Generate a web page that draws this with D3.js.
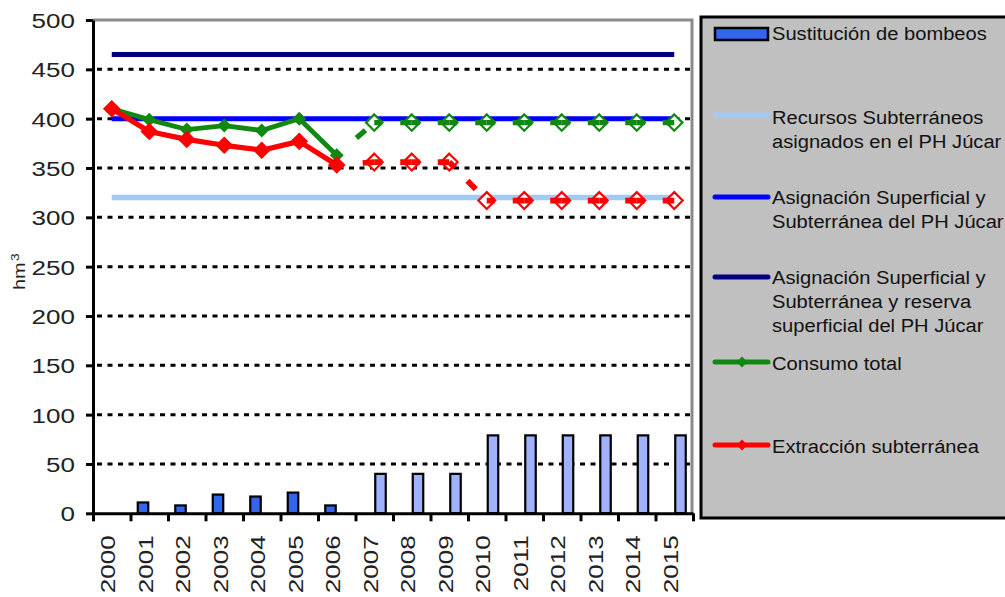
<!DOCTYPE html>
<html><head><meta charset="utf-8">
<script src="https://cdn.jsdelivr.net/npm/d3@7"></script>
<style>
body{margin:0;background:#fff}
svg{display:block}
text{font-family:"Liberation Sans",Arial,Helvetica,sans-serif}
</style>
</head><body>
<svg id="c" width="1005" height="597"></svg>
<script>
// ---------- DATA ----------
const years = ["2000","2001","2002","2003","2004","2005","2006","2007","2008","2009","2010","2011","2012","2013","2014","2015"];
const yTicks = [0,50,100,150,200,250,300,350,400,450,500];
// Sustitución de bombeos (historic / planned)
const sustitucionReal = [0,12,9,20,18,22,9,null,null,null,null,null,null,null,null,null];
const sustitucionPrev = [null,null,null,null,null,null,null,41,41,41,80,80,80,80,80,80];
// reference lines
const recursosSubterraneos = [320,320,320,320,320,320,320,320,320,320,320,320,320,320,320,320];
const asignacionSupSub = [400,400,400,400,400,400,400,400,400,400,400,400,400,400,400,400];
const asignacionReserva = [465,465,465,465,465,465,465,465,465,465,465,465,465,465,465,465];
// measured (2000-2006) + forecast (2006-2015)
const consumoTotal = [410,399,389,393,388,400,363,396,396,396,396,396,396,396,396,396];
const extraccionSubterranea = [410,387,379,373,368,377,353,356,356,356,317,317,317,317,317,317];
const lastMeasured = 6;
const legendLabels = [
  ["Sustitución de bombeos"],
  ["Recursos Subterráneos","asignados en el PH Júcar"],
  ["Asignación Superficial y","Subterránea del PH Júcar"],
  ["Asignación Superficial y","Subterránea y reserva","superficial del PH Júcar"],
  ["Consumo total"],
  ["Extracción subterránea"]
];

// ---------- STYLE ----------
const C = {
  barReal:"#3366ee", barPrev:"#a0b2fb",
  light:"#9fcbf5", blue:"#0000ff", navy:"#000080",
  green:"#118811", red:"#ff0000"
};

const svg = d3.select("#c");
const L = 93, R = 693, T = 20, B = 513.3;
const x = d3.scaleBand().domain(years).range([L,R]);
const y = d3.scaleLinear().domain([0,500]).range([B,T]);
const xs = d => x(d) + x.bandwidth()/2;
const inner = d3.scaleBand().domain(["real","prev"]).range([0,x.bandwidth()]).paddingInner(0).paddingOuter(0.5);

// gridlines
svg.append("g").selectAll("line").data(yTicks.filter(v=>v>0 && v<500)).join("line")
  .attr("x1",L+4).attr("x2",R-2).attr("y1",d=>y(d)).attr("y2",d=>y(d))
  .attr("stroke","#000").attr("stroke-width",3).attr("stroke-dasharray","5 5.5");

// plot frame (top/right gray)
svg.append("path").attr("d",`M${L},${T}H${R-1}V${B}`).attr("fill","none")
  .attr("stroke","#8a8a8a").attr("stroke-width",3);

// bars
function bars(data, key, color){
  svg.append("g").selectAll("rect").data(years.map((yr,i)=>({yr,v:data[i]})).filter(d=>d.v!=null && d.v>0)).join("rect")
    .attr("x",d=>x(d.yr)+inner(key)+1).attr("width",inner.bandwidth()-2)
    .attr("y",d=>y(d.v)+1).attr("height",d=>B-y(d.v)-1)
    .attr("fill",color).attr("stroke","#000").attr("stroke-width",2.2);
}
bars(sustitucionReal,"real",C.barReal);
bars(sustitucionPrev,"prev",C.barPrev);

// horizontal reference lines
const line = d3.line().x((d,i)=>xs(years[i])).y(d=>y(d));
[[recursosSubterraneos,C.light,5.5],[asignacionSupSub,C.blue,5],[asignacionReserva,C.navy,5]].forEach(([d,c,w])=>{
  svg.append("path").attr("d",line(d)).attr("fill","none").attr("stroke",c).attr("stroke-width",w);
});

// diamond helper
const diamond = (cx,cy,h)=>`M${cx},${cy-h}L${cx+h},${cy}L${cx},${cy+h}L${cx-h},${cy}Z`;

function series(data,color,w,hFill,hOpen){
  const pts = data.map((v,i)=>({i,px:xs(years[i]),py:y(v)}));
  const g = svg.append("g");
  // forecast markers (open)
  g.selectAll("path.m").data(pts.filter(p=>p.i>lastMeasured)).join("path").attr("class","m")
    .attr("d",p=>diamond(p.px,p.py,hOpen)).attr("fill","#fff").attr("stroke",color).attr("stroke-width",2.2);
  // forecast dashed segments
  const segLine = d3.line().x(p=>p.px).y(p=>p.py);
  for(let i=lastMeasured;i<pts.length-1;i++){
    g.append("path").attr("d",segLine([pts[i],pts[i+1]])).attr("fill","none")
      .attr("stroke",color).attr("stroke-width",w+0.5)
      .attr("stroke-dasharray", i===lastMeasured ? "0 26 12 1000" : "8 18 12 1000");
  }
  // measured
  const hist = pts.filter(p=>p.i<=lastMeasured);
  svg.append("path").attr("d",segLine(hist)).attr("fill","none").attr("stroke",color)
    .attr("stroke-width",w).attr("stroke-linejoin","round");
  svg.append("g").selectAll("path").data(hist).join("path")
    .attr("d",p=>diamond(p.px,p.py,hFill)).attr("fill",color);
}
series(consumoTotal,C.green,4.8,7,8.2);
series(extraccionSubterranea,C.red,5.2,8.8,8.4);

// Y axis
const ya = svg.append("g").attr("transform",`translate(${L},0)`)
  .call(d3.axisLeft(y).tickValues(yTicks).tickSize(7).tickSizeOuter(0).tickFormat(d3.format("d")));
ya.select(".domain").attr("stroke","#000").attr("stroke-width",3);
ya.selectAll(".tick line").attr("stroke","#000").attr("stroke-width",3);
ya.selectAll(".tick text").attr("font-size",21).attr("fill","#222")
  .attr("x",-18/1.24).attr("dy","0.36em").attr("transform","scale(1.24,1)")
  .style("font-family","'Liberation Sans',Arial,sans-serif");

// X axis boundary ticks
const xb = d3.scaleLinear().domain([0,years.length]).range([L,R]);
const xa = svg.append("g").attr("transform",`translate(0,${B})`)
  .call(d3.axisBottom(xb).ticks(years.length).tickSize(8).tickSizeOuter(0).tickFormat(""));
xa.select(".domain").attr("stroke","#000").attr("stroke-width",3);
xa.selectAll(".tick line").attr("stroke","#000").attr("stroke-width",3);
// X axis labels
const xl = svg.append("g").attr("transform",`translate(0,${B})`)
  .call(d3.axisBottom(x).tickSize(0).tickSizeOuter(0));
xl.select(".domain").remove();
xl.selectAll(".tick text").attr("font-size",21).attr("fill","#222")
  .attr("text-anchor","end").attr("transform","rotate(-90) scale(1.24,1)")
  .attr("x",-22/1.24).attr("y",3.5).attr("dy",0)
  .style("font-family","'Liberation Sans',Arial,sans-serif");

// Y title
const yt = svg.append("text").attr("transform","translate(25,290) rotate(-90) scale(1.25,1)")
  .attr("font-size",16).attr("fill","#222");
yt.append("tspan").text("hm");
yt.append("tspan").attr("dy",-6).attr("dx",1).attr("font-size",11).text("3");

// Legend
svg.append("rect").attr("x",701).attr("y",17).attr("width",330).attr("height",501)
  .attr("fill","#c0c0c0").attr("stroke","#000").attr("stroke-width",3);
const legY = [34,115,197,277,362,445];
const legBase = [40,124,203.5,283.5,369.5,453];
const lg = svg.append("g");
lg.append("rect").attr("x",715).attr("y",legY[0]-6).attr("width",53).attr("height",12)
  .attr("fill",C.barReal).attr("stroke","#000").attr("stroke-width",2.5);
[[1,C.light],[2,C.blue],[3,C.navy],[4,C.green],[5,C.red]].forEach(([k,c])=>{
  lg.append("line").attr("x1",715).attr("x2",768).attr("y1",legY[k]).attr("y2",legY[k])
    .attr("stroke",c).attr("stroke-width",5).attr("stroke-linecap","round");
});
lg.append("path").attr("d",diamond(742,legY[4],5.5)).attr("fill",C.green);
lg.append("path").attr("d",diamond(742,legY[5],5.5)).attr("fill",C.red);
legendLabels.forEach((lines,k)=>{
  const t = lg.append("text").attr("transform",`translate(772,${legBase[k]}) scale(1.06,1)`)
    .attr("font-size",19).attr("fill","#111");
  lines.forEach((s,j)=>t.append("tspan").attr("x",0).attr("y",j*24.5).text(s));
});
</script>
</body></html>
